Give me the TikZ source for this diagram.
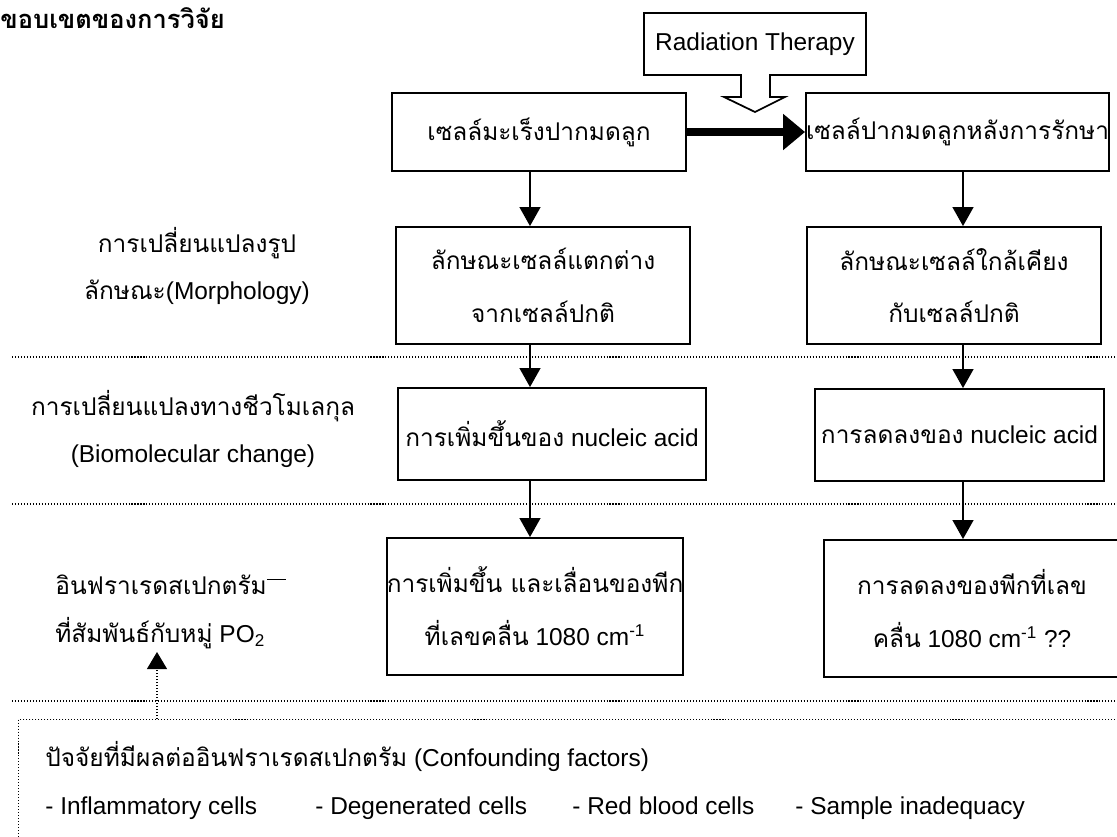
\documentclass[tikz,border=0pt]{standalone}
\usepackage{fontspec}
\setmainfont{Liberation Sans}
\newfontfamily\thaifont[Script=Thai]{Loma}
\usetikzlibrary{arrows.meta}
\newcommand{\tx}[1]{{\thaifont #1}}
\tikzset{
  box/.style={draw, line width=1.1pt, inner sep=0pt, align=center, font=\fontsize{13.9}{30}\selectfont},
  txt/.style={inner sep=0pt, align=center, font=\fontsize{13.9}{27}\selectfont},
  arr/.style={line width=0.8pt, -{Triangle[length=3.8mm, width=4.2mm]}},
  sep/.style={line width=0.6pt, dash pattern=on 0.6pt off 1.1pt},
}

\begin{document}
\begin{tikzpicture}[x=0.2mm, y=-0.2mm]
    \useasboundingbox (0,0) rectangle (1117,837);
    \node[txt, anchor=west, font=\fontsize{14.5}{16}\selectfont\bfseries] (title) at (0,18) {\tx{ขอบเขตของการวิจัย}};

    \draw[line width=1pt] (644,13) -- (866,13) -- (866,75) -- (770,75) -- (770,97) -- (785,97)
      -- (755,112) -- (724,97) -- (741,97) -- (741,75) -- (644,75) -- cycle;
    \node[txt] (rt) at (755,44) {Radiation Therapy};

    \node[box, minimum width=58.8mm, minimum height=15.6mm] (c1) at (539,132) {\tx{เซลล์มะเร็งปากมดลูก}};
    \node[box, minimum width=60.6mm, minimum height=15.6mm] (t1) at (957.5,132) {\tx{เซลล์ปากมดลูกหลังการรักษา}};
    \node[box, minimum width=58.8mm, minimum height=23.4mm] (c2) at (543,285.5) {\tx{ลักษณะเซลล์แตกต่าง}\\\tx{จากเซลล์ปกติ}};
    \node[box, minimum width=58.8mm, minimum height=23.4mm] (t2) at (954,285.5) {\tx{ลักษณะเซลล์ใกล้เคียง}\\\tx{กับเซลล์ปกติ}};
    \node[box, minimum width=61.6mm, minimum height=18.4mm] (c3) at (552,434) {\tx{การเพิ่มขึ้นของ} nucleic acid};
    \node[box, minimum width=57.8mm, minimum height=18.4mm] (t3) at (959.5,435) {\tx{การลดลงของ} nucleic acid};
    \node[box, minimum width=58.8mm, minimum height=27.4mm] (c4) at (535,606.5) {\tx{การเพิ่มขึ้น และเลื่อนของพีก}\\\tx{ที่เลขคลื่น} 1080 cm\textsuperscript{-1}};
    \node[box, minimum width=59.2mm, minimum height=27.4mm] (t4) at (972,608.5) {\tx{การลดลงของพีกที่เลข}\\\tx{คลื่น} 1080 cm\textsuperscript{-1} ??};

    \coordinate (lx) at (530,0);
    \coordinate (rx) at (963,0);
    \coordinate (ix) at (157,0);
    \coordinate (tip) at (157,652);

    \draw[line width=4pt, -{Triangle[length=4.4mm, width=7mm]}] (c1.east) -- (t1.west);
    \draw[arr] (c1.south -| lx) -- (c2.north -| lx);
    \draw[arr] (c2.south -| lx) -- (c3.north -| lx);
    \draw[arr] (c3.south -| lx) -- (c4.north -| lx);
    \draw[arr] (t1.south -| rx) -- (t2.north -| rx);
    \draw[arr] (t2.south -| rx) -- (t3.north -| rx);
    \draw[arr] (t3.south -| rx) -- (t4.north -| rx);

    \foreach \y in {357,504,701}
      \draw[sep] (12,\y) -- (1117,\y);

    \node[txt] (l1) at (197,266) {\tx{การเปลี่ยนแปลงรูป}\\\tx{ลักษณะ}(Morphology)};
    \node[txt] (l2) at (193,429) {\tx{การเปลี่ยนแปลงทางชีวโมเลกุล}\\(Biomolecular change)};
    \node[txt, anchor=west, align=left] (l3) at (55,612) {\tx{อินฟราเรดสเปกตรัม}\rule[0.6em]{0.8em}{0.06em}\\\tx{ที่สัมพันธ์กับหมู่} PO\textsubscript{2}};

    \node[draw, sep, anchor=north west, inner sep=0pt, minimum width=222.4mm, minimum height=26mm] (f) at (18,719) {};
    \draw[sep, -{Triangle[length=3.4mm, width=4mm]}] (f.north -| ix) -- (tip);
    \node[txt, anchor=base west] (f0) at (45,766) {\tx{ปัจจัยที่มีผลต่ออินฟราเรดสเปกตรัม} (Confounding factors)};
    \node[txt, anchor=base west] (f1) at (45,814) {- Inflammatory cells};
    \node[txt, anchor=base west] (f2) at (315,814) {- Degenerated cells};
    \node[txt, anchor=base west] (f3) at (572,814) {- Red blood cells};
    \node[txt, anchor=base west] (f4) at (795,814) {- Sample inadequacy};
\end{tikzpicture}
\end{document}
